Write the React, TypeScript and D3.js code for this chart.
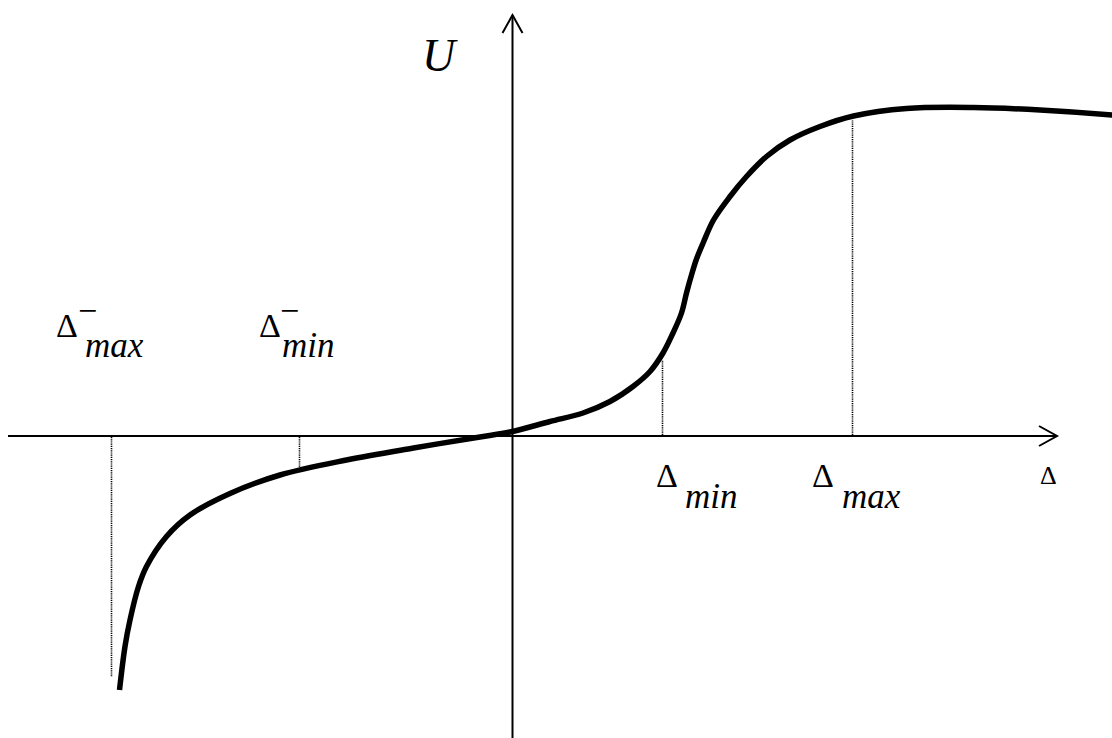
import React from "react";
import * as d3 from "d3";

// curve U(Δ) (1 unit ≈ 50px)
const curveDelta = [
  -7.85, -7.74, -7.64, -7.47, -7.31, -6.91, -6.44, -5.64, -4.64, -3.31, -1.97,
  -0.64, -0.04, 0.76, 1.42, 1.96, 2.42, 2.76, 3.02, 3.22, 3.39, 3.49, 3.59,
  3.69, 3.83, 4.03, 4.36, 4.69, 5.09, 5.56, 6.16, 6.83, 7.89, 9.23, 10.56,
  12.0, 12.2,
];
const curveU = [
  -5.08, -4.21, -3.68, -3.01, -2.61, -2.01, -1.58, -1.15, -0.78, -0.48, -0.24,
  -0.02, 0.08, 0.29, 0.46, 0.69, 0.99, 1.29, 1.66, 2.06, 2.46, 2.86, 3.22,
  3.54, 3.88, 4.32, 4.79, 5.19, 5.59, 5.92, 6.19, 6.4, 6.55, 6.57, 6.52,
  6.42, 6.4,
];

// dotted markers: position on Δ axis and how far they reach
const markerNames = ["maxNeg", "minNeg", "min", "max"];
const markerDelta = [-8.02, -4.26, 3.0, 6.8];
const markerU = [-4.82, -0.62, 1.52, 6.32];

const W = 1112;
const H = 738;

const FONT = "Liberation Serif";

function Label(props: {
  x: number;
  y: number;
  size: number;
  italic?: boolean;
  children: React.ReactNode;
}) {
  return (
    <text
      x={props.x}
      y={props.y}
      fontSize={props.size}
      fontStyle={props.italic ? "italic" : "normal"}
      fill="#000"
      style={{ fontFamily: FONT }}
    >
      {props.children}
    </text>
  );
}

export default function App() {
  const x = d3.scaleLinear().domain([-10, 12]).range([12, 1112]);
  const y = d3.scaleLinear().domain([-6, 8]).range([736, 36]);

  const pts: [number, number][] = curveDelta.map((d, i) => [d, curveU[i]]);
  const line = d3
    .line<[number, number]>()
    .x((d) => x(d[0]))
    .y((d) => y(d[1]))
    .curve(d3.curveCatmullRom.alpha(0.5));

  const x0 = x(0) + 0.5;
  const y0 = y(0);
  const xEnd = x(10.9);
  const yTop = y(8.42);

  return (
    <svg
      width={W}
      height={H}
      style={{ position: "absolute", left: 0, top: 0, background: "#fff" }}
    >
      {/* axes */}
      <g stroke="#000" strokeWidth={2} fill="none">
        <line x1={8} y1={y0} x2={xEnd} y2={y0} />
        <line x1={x0} y1={H} x2={x0} y2={yTop} />
        <polyline
          points={`${xEnd - 18},${y0 - 10} ${xEnd},${y0} ${xEnd - 18},${y0 + 10}`}
        />
        <polyline
          points={`${x0 - 10},${yTop + 18} ${x0},${yTop} ${x0 + 10},${yTop + 18}`}
        />
      </g>

      {/* dotted drop lines */}
      <g stroke="#000" strokeWidth={1.6} strokeDasharray="1.2,1">
        {markerNames.map((n, i) => {
          const mx = Math.round(x(markerDelta[i])) + 0.5;
          return (
            <line
              key={n}
              x1={mx}
              x2={mx}
              y1={y0 + (markerU[i] < 0 ? 1 : -1)}
              y2={y(markerU[i])}
            />
          );
        })}
      </g>

      {/* curve */}
      <path
        d={line(pts) || ""}
        fill="none"
        stroke="#000"
        strokeWidth={5.5}
        strokeLinecap="butt"
      />

      {/* labels */}
      <Label x={422} y={71} size={46} italic>U</Label>

      <Label x={56} y={337} size={34}>Δ</Label>
      <Label x={78} y={322} size={34}>−</Label>
      <Label x={85} y={357} size={35} italic>max</Label>

      <Label x={259} y={337} size={34}>Δ</Label>
      <Label x={280} y={322} size={34}>−</Label>
      <Label x={282} y={357} size={35} italic>min</Label>

      <Label x={656} y={487} size={34}>Δ</Label>
      <Label x={685} y={508} size={35} italic>min</Label>

      <Label x={812} y={487} size={34}>Δ</Label>
      <Label x={842} y={508} size={35} italic>max</Label>

      <Label x={1040} y={484} size={26}>Δ</Label>
    </svg>
  );
}
